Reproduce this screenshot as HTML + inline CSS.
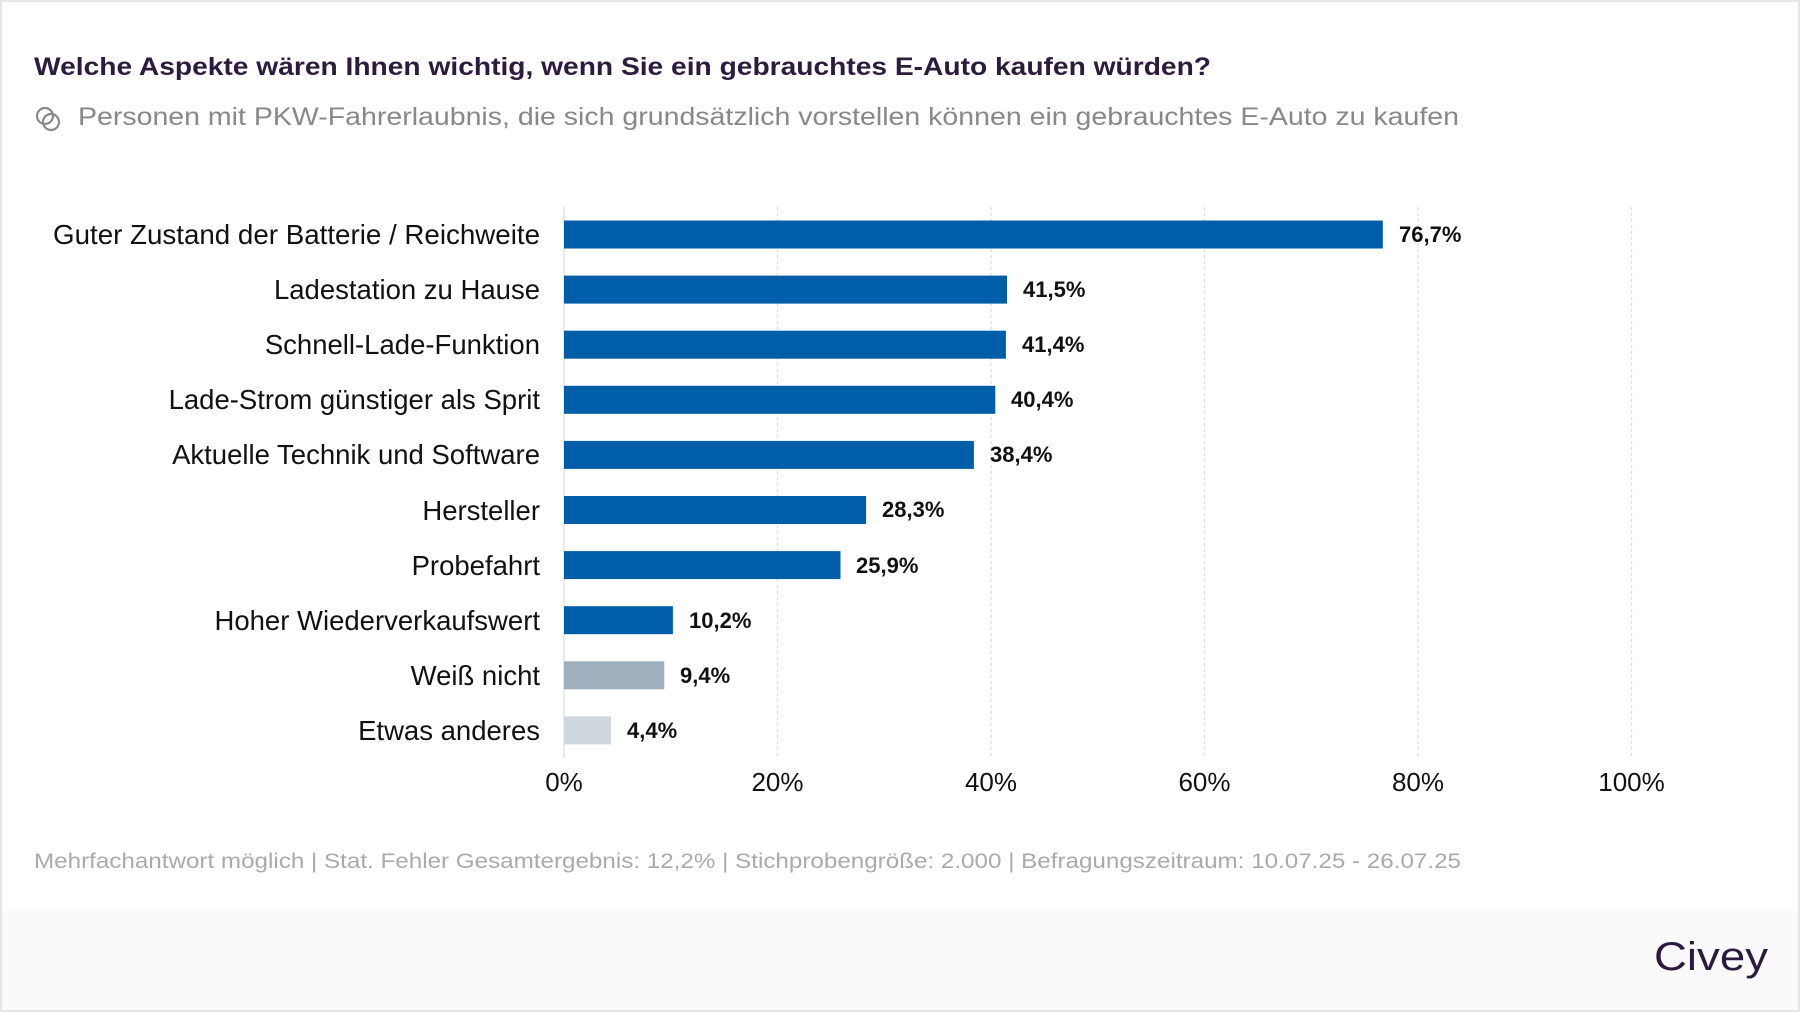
<!DOCTYPE html>
<html><head><meta charset="utf-8"><style>
html,body{margin:0;padding:0;background:#fff}
svg{display:block}
</style></head><body>
<svg width="1800" height="1012" viewBox="0 0 1800 1012" xmlns="http://www.w3.org/2000/svg" font-family="Liberation Sans, sans-serif">
<rect x="0" y="0" width="1800" height="1012" fill="#fff"/>
<rect x="1" y="910" width="1798" height="100" fill="#fafafa"/>
<rect x="1" y="1" width="1798" height="1010" fill="none" stroke="#e6e6e6" stroke-width="2"/>
<text x="34" y="75" font-size="25" font-weight="bold" fill="#2d1b3d" textLength="1177" lengthAdjust="spacingAndGlyphs">Welche Aspekte wären Ihnen wichtig, wenn Sie ein gebrauchtes E-Auto kaufen würden?</text>
<g fill="none" stroke="#888" stroke-width="2.2"><circle cx="45" cy="116" r="8"/><circle cx="51" cy="122" r="8"/></g>
<text x="78" y="125" font-size="25" fill="#888" textLength="1381" lengthAdjust="spacingAndGlyphs">Personen mit PKW-Fahrerlaubnis, die sich grundsätzlich vorstellen können ein gebrauchtes E-Auto zu kaufen</text>
<g stroke="#ddd" stroke-width="1.3" stroke-dasharray="3,3">
<line x1="777.5" y1="207" x2="777.5" y2="758"/><line x1="991" y1="207" x2="991" y2="758"/><line x1="1204.5" y1="207" x2="1204.5" y2="758"/><line x1="1418" y1="207" x2="1418" y2="758"/><line x1="1631.5" y1="207" x2="1631.5" y2="758"/>
</g>
<line x1="564" y1="207" x2="564" y2="758" stroke="#ddd" stroke-width="1.3"/>
<g fill="#005ea8">
<rect x="564" y="220.5" width="818.8" height="28"/>
<rect x="564" y="275.6" width="443" height="28"/>
<rect x="564" y="330.7" width="441.9" height="28"/>
<rect x="564" y="385.8" width="431.3" height="28"/>
<rect x="564" y="440.9" width="409.9" height="28"/>
<rect x="564" y="496" width="302.1" height="28"/>
<rect x="564" y="551.1" width="276.5" height="28"/>
<rect x="564" y="606.2" width="108.9" height="28"/>
</g>
<rect x="564" y="661.3" width="100.3" height="28" fill="#9fb1be"/>
<rect x="564" y="716.4" width="47" height="28" fill="#cfd8df"/>
<g font-size="27.5" fill="#111" text-anchor="end">
<text x="540" y="244" textLength="487" lengthAdjust="spacingAndGlyphs">Guter Zustand der Batterie / Reichweite</text>
<text x="540" y="299">Ladestation zu Hause</text>
<text x="540" y="354">Schnell-Lade-Funktion</text>
<text x="540" y="409">Lade-Strom günstiger als Sprit</text>
<text x="540" y="464">Aktuelle Technik und Software</text>
<text x="540" y="520">Hersteller</text>
<text x="540" y="575">Probefahrt</text>
<text x="540" y="630">Hoher Wiederverkaufswert</text>
<text x="540" y="685">Weiß nicht</text>
<text x="540" y="740">Etwas anderes</text>
</g>
<g font-size="22" font-weight="bold" fill="#111">
<text x="1399" y="242">76,7%</text>
<text x="1023" y="297">41,5%</text>
<text x="1022" y="352">41,4%</text>
<text x="1011" y="407">40,4%</text>
<text x="990" y="462">38,4%</text>
<text x="882" y="517">28,3%</text>
<text x="856" y="573">25,9%</text>
<text x="689" y="628">10,2%</text>
<text x="680" y="683">9,4%</text>
<text x="627" y="738">4,4%</text>
</g>
<g font-size="26" fill="#111" text-anchor="middle">
<text x="564" y="791">0%</text><text x="777.5" y="791">20%</text><text x="991" y="791">40%</text><text x="1204.5" y="791">60%</text><text x="1418" y="791">80%</text><text x="1631.5" y="791">100%</text>
</g>
<text x="34" y="868" font-size="21" fill="#aaa" textLength="1427" lengthAdjust="spacingAndGlyphs">Mehrfachantwort möglich | Stat. Fehler Gesamtergebnis: 12,2% | Stichprobengröße: 2.000 | Befragungszeitraum: 10.07.25 - 26.07.25</text>
<text x="1654" y="970" font-size="40" fill="#2d1b3d" textLength="114" lengthAdjust="spacingAndGlyphs">Civey</text>
</svg>
</body></html>
